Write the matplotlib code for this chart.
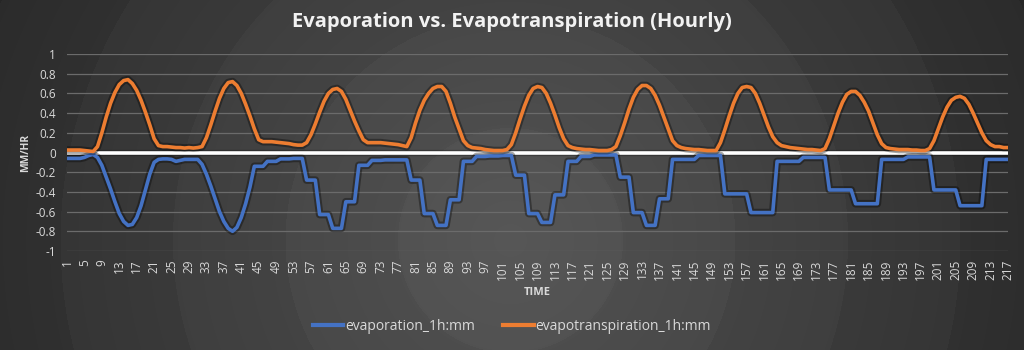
import numpy as np
import matplotlib
matplotlib.use("Agg")
import matplotlib.pyplot as plt
import matplotlib.patheffects as pe

plt.rcParams['font.family'] = ['Open Sans', 'DejaVu Sans']

# hourly index 1..217
hours = np.arange(1, 218)

evaporation = [
    -0.06, -0.06, -0.06, -0.06, -0.05, -0.03, -0.02, -0.05, -0.13, -0.25,
    -0.37, -0.5, -0.62, -0.7, -0.74, -0.73, -0.66, -0.54, -0.38, -0.22,
    -0.1, -0.07, -0.065, -0.065, -0.07, -0.09, -0.08, -0.07, -0.07, -0.07,
    -0.07, -0.12, -0.22, -0.34, -0.47, -0.6, -0.7, -0.77, -0.8, -0.76,
    -0.66, -0.52, -0.35, -0.14, -0.14, -0.14, -0.09, -0.09, -0.09, -0.065,
    -0.065, -0.065, -0.06, -0.06, -0.06, -0.28, -0.28, -0.28, -0.63, -0.63,
    -0.63, -0.77, -0.77, -0.77, -0.5, -0.5, -0.5, -0.13, -0.13, -0.13,
    -0.08, -0.08, -0.08, -0.075, -0.075, -0.075, -0.075, -0.075, -0.075, -0.28,
    -0.28, -0.28, -0.62, -0.62, -0.62, -0.74, -0.74, -0.74, -0.48, -0.48,
    -0.48, -0.09, -0.09, -0.09, -0.04, -0.04, -0.04, -0.035, -0.035, -0.035,
    -0.03, -0.03, -0.03, -0.23, -0.23, -0.23, -0.62, -0.62, -0.62, -0.71,
    -0.71, -0.71, -0.43, -0.43, -0.43, -0.09, -0.09, -0.09, -0.04, -0.04,
    -0.04, -0.025, -0.025, -0.025, -0.025, -0.025, -0.025, -0.25, -0.25, -0.25,
    -0.61, -0.61, -0.61, -0.74, -0.74, -0.74, -0.47, -0.47, -0.47, -0.07,
    -0.07, -0.07, -0.07, -0.07, -0.07, -0.03, -0.03, -0.03, -0.03, -0.03,
    -0.03, -0.42, -0.42, -0.42, -0.42, -0.42, -0.42, -0.61, -0.61, -0.61,
    -0.61, -0.61, -0.61, -0.09, -0.09, -0.09, -0.09, -0.09, -0.09, -0.05,
    -0.05, -0.05, -0.05, -0.05, -0.05, -0.38, -0.38, -0.38, -0.38, -0.38,
    -0.38, -0.52, -0.52, -0.52, -0.52, -0.52, -0.52, -0.07, -0.07, -0.07,
    -0.07, -0.07, -0.07, -0.045, -0.045, -0.045, -0.045, -0.045, -0.045, -0.38,
    -0.38, -0.38, -0.38, -0.38, -0.38, -0.54, -0.54, -0.54, -0.54, -0.54,
    -0.54, -0.07, -0.07, -0.07, -0.07, -0.07, -0.07,
]

evapotranspiration = [
    0.025, 0.025, 0.025, 0.025, 0.02, 0.015, 0.01, 0.06, 0.2, 0.36,
    0.5, 0.61, 0.69, 0.73, 0.74, 0.7, 0.63, 0.53, 0.41, 0.28,
    0.14, 0.07, 0.06, 0.06, 0.055, 0.05, 0.05, 0.045, 0.05, 0.045,
    0.05, 0.06, 0.15, 0.28, 0.42, 0.55, 0.65, 0.71, 0.72, 0.68,
    0.6, 0.49, 0.37, 0.24, 0.13, 0.11, 0.11, 0.11, 0.105, 0.1,
    0.095, 0.09, 0.08, 0.075, 0.075, 0.1, 0.18, 0.29, 0.41, 0.52,
    0.6, 0.64, 0.65, 0.62, 0.54, 0.43, 0.32, 0.22, 0.13, 0.1,
    0.1, 0.1, 0.1, 0.095, 0.09, 0.085, 0.08, 0.07, 0.06, 0.15,
    0.3, 0.43, 0.53, 0.6, 0.65, 0.67, 0.67, 0.62, 0.5, 0.36,
    0.24, 0.12, 0.07, 0.05, 0.045, 0.04, 0.03, 0.025, 0.02, 0.02,
    0.02, 0.03, 0.08, 0.2, 0.34, 0.47, 0.58, 0.65, 0.67, 0.66,
    0.6, 0.5, 0.38, 0.25, 0.14, 0.07, 0.05, 0.04, 0.035, 0.03,
    0.03, 0.025, 0.02, 0.02, 0.02, 0.03, 0.06, 0.17, 0.3, 0.44,
    0.56, 0.64, 0.68, 0.68, 0.65, 0.58, 0.48, 0.36, 0.24, 0.12,
    0.07, 0.05, 0.04, 0.035, 0.03, 0.03, 0.025, 0.02, 0.02, 0.02,
    0.1, 0.23, 0.37, 0.5, 0.6, 0.66, 0.67, 0.66, 0.6, 0.5,
    0.38, 0.26, 0.16, 0.1, 0.07, 0.06, 0.05, 0.045, 0.04, 0.035,
    0.03, 0.03, 0.025, 0.02, 0.04, 0.14, 0.27, 0.4, 0.51, 0.59,
    0.62, 0.62, 0.58, 0.51, 0.42, 0.3, 0.18, 0.09, 0.05, 0.04,
    0.035, 0.03, 0.03, 0.03, 0.025, 0.025, 0.02, 0.02, 0.04, 0.12,
    0.24, 0.36, 0.46, 0.53, 0.56, 0.57, 0.55, 0.49, 0.4, 0.3,
    0.2, 0.12, 0.08, 0.06, 0.06, 0.05, 0.05,
]

yticks = [-1, -0.8, -0.6, -0.4, -0.2, 0, 0.2, 0.4, 0.6, 0.8, 1]
ytick_labels = ['-1', '-0.8', '-0.6', '-0.4', '-0.2', '0', '0.2', '0.4', '0.6', '0.8', '1']
xticks = list(range(1, 218, 4))

W, H = 1024, 350
fig = plt.figure(figsize=(W / 100, H / 100), dpi=100)

# radial banded background like the Excel theme
bg = fig.add_axes([0, 0, 1, 1], zorder=-10)
yy, xx = np.mgrid[0:H, 0:W]
r = np.sqrt((xx - 510) ** 2 + (yy - 240) ** 2) / 900.0
r = np.clip(r, 0, 1)
rb = np.floor(r * 8) / 8
shade = 0.34 - 0.30 * (0.5 * r + 0.5 * rb)
shade = np.clip(shade, 0.12, 1)
bg.imshow(np.dstack([shade, shade, shade]), aspect='auto', extent=[0, 1, 0, 1])
bg.axis('off')

ax = fig.add_axes([67 / W, 1 - 251 / H, (1008 - 67) / W, (251 - 54) / H])
ax.set_facecolor('none')

shadow = [pe.Stroke(linewidth=5.5, foreground='black', alpha=0.35), pe.Normal()]

for y in yticks:
    if y != 0:
        ax.axhline(y, color='#6b6b6b', lw=0.9, zorder=1)
ax.axhline(0, color='white', lw=2.6, zorder=2,
           path_effects=[pe.Stroke(linewidth=4.5, foreground='black', alpha=0.25), pe.Normal()])

ax.plot(hours, evaporation, color='#4472C4', lw=2.6, label='evaporation_1h:mm',
        zorder=3, path_effects=shadow, solid_joinstyle='round')
ax.plot(hours, evapotranspiration, color='#ED7D31', lw=2.6, label='evapotranspiration_1h:mm',
        zorder=4, path_effects=shadow, solid_joinstyle='round')

ax.set_xlim(1, 217)
ax.set_ylim(-1, 1)
ax.set_yticks(yticks)
ax.set_yticklabels(ytick_labels)
ax.set_xticks(xticks)
ax.set_xticklabels([str(t) for t in xticks], rotation=90)
ax.tick_params(axis='both', length=0, colors='#d9d9d9', labelsize=8.5)
ax.tick_params(axis='y', pad=8)
ax.tick_params(axis='x', pad=6)
for s in ax.spines.values():
    s.set_visible(False)

ax.set_ylabel('MM/HR', color='#d9d9d9', fontsize=7.5, fontweight='bold', labelpad=3)
ax.set_xlabel('TIME', color='#d9d9d9', fontsize=8, fontweight='bold', labelpad=5)

fig.text(0.5, 1 - 22 / H, 'Evaporation vs. Evapotranspiration (Hourly)', ha='center', va='center',
         color='#f2f2f2', fontsize=14.5, fontweight='bold')

leg = fig.legend(loc='center', bbox_to_anchor=(0.5, 1 - 326 / H), ncol=2, frameon=False,
                 fontsize=10, handlelength=2.2, handletextpad=0.15, columnspacing=2.0)
for t in leg.get_texts():
    t.set_color('#d9d9d9')
for h in leg.legend_handles:
    h.set_path_effects([])
    h.set_linewidth(3)

fig.savefig('out.png', dpi=100)
